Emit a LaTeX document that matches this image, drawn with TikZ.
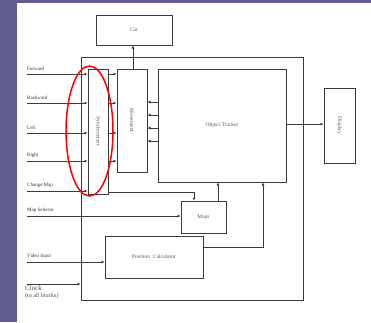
\documentclass[tikz,border=0pt]{standalone}
\usepackage{fontspec}
\setmainfont{Liberation Serif}
\usetikzlibrary{arrows.meta}
\definecolor{bgpurple}{HTML}{5F5C90}
\definecolor{ln}{HTML}{3A3A3A}
\begin{document}
\begin{tikzpicture}[x=1pt,y=-1pt,
  box/.style={draw=ln,line width=1pt,fill=white,inner sep=0pt,font=\fontsize{5.5}{6}\selectfont,text=black!65},
  wire/.style={draw=ln,line width=0.9pt},
  arr/.style={wire,-{Latex[length=3pt,width=3pt]}},
  lbl/.style={anchor=south west,inner sep=0pt,font=\fontsize{5}{6}\selectfont,text=black!80}]
\useasboundingbox (0,0) rectangle (371,322);
\fill[bgpurple] (0,0) rectangle (371,322);
\fill[white] (17,3) rectangle (371,322);
% blocks
\node[box,minimum width=222pt,minimum height=243pt,fill=none] (big) at (192,178.5) {};
\node[box,minimum width=76pt,minimum height=30pt] (car) at (134,30) {Car};
\node[box,minimum width=20pt,minimum height=125pt] (sync) at (98,131.5) {\rotatebox{-90}{Synchronizer}};
\node[box,minimum width=30pt,minimum height=103pt] (mov) at (132,120.5) {\rotatebox{-90}{Movement}};
\node[box,minimum width=128pt,minimum height=113pt] (ot) at (222,125.5) {Object Tracker};
\node[box,minimum width=31pt,minimum height=75pt] (disp) at (339.5,125.5) {\rotatebox{-90}{Display}};
\node[box,minimum width=45pt,minimum height=32pt] (maps) at (203.5,217) {Maps};
\node[box,minimum width=98pt,minimum height=42pt] (pc) at (154,257) {Position\ \ Calculator};
% inputs
\coordinate (fw) at (27,74);
\coordinate (bw) at (27,103);
\coordinate (lf) at (27,133);
\coordinate (rt) at (27,161);
\coordinate (cm) at (27,191);
\coordinate (ms) at (27,216);
\coordinate (vi) at (27,262);
\coordinate (ck) at (27,284);
\node[lbl] (lfw) at (27,71) {Forward};
\node[lbl] (lbw) at (27,100) {Backward};
\node[lbl] (llf) at (27,130) {Left};
\node[lbl] (lrt) at (27,158) {Right};
\node[lbl] (lcm) at (27,188) {Change Map};
\node[lbl] (lms) at (27,213) {Map Selector};
\node[lbl] (lvi) at (27,259) {Video Input};
\node[anchor=north west,inner sep=0pt,align=left,font=\fontsize{7}{8}\selectfont,text=black!70] (lck) at (25,285) {Clock\\[-1pt]{\fontsize{6}{7}\selectfont(to all blocks)}};
\draw[arr] (fw) -- (fw -| sync.west);
\draw[arr] (bw) -- (bw -| sync.west);
\draw[arr] (lf) -- (lf -| sync.west);
\draw[arr] (rt) -- (rt -| sync.west);
\draw[arr] (cm) -- (cm -| sync.west);
\draw[arr] (ms) -- (ms -| maps.west);
\draw[arr] (vi) -- (vi -| pc.west);
\draw[arr] (ck) -- (ck -| big.west);
% sync to movement
\foreach \y in {74,103,133,161}{
  \draw[arr] (sync.east |- 0,\y) -- (mov.west |- 0,\y);
}
% object tracker to movement
\foreach \y in {102,115,128,141}{
  \draw[arr] (ot.west |- 0,\y) -- (mov.east |- 0,\y);
}
% movement to car
\draw[arr] (133,69) -- (car.south -| 133,0);
% tracker to display
\draw[arr] (ot.east |- 0,124) -- (disp.west |- 0,124);
% sync to maps
\coordinate (sm) at (194,192);
\draw[arr] (sync.east |- sm) -- (sm) -- (maps.north -| sm);
% maps to tracker
\draw[arr] (maps.north -| 218,0) -- (ot.south -| 218,0);
% position calc to tracker
\coordinate (pt) at (263,247);
\draw[arr] (pc.east |- pt) -- (pt) -- (ot.south -| pt);
% red ellipse
\draw[red,line width=1.5pt] (89.5,131) ellipse [x radius=23.5pt,y radius=65pt];
\end{tikzpicture}
\end{document}
